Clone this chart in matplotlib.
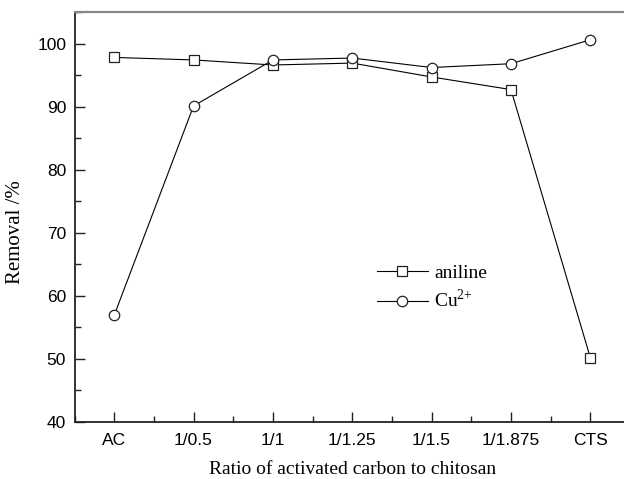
import numpy as np
import matplotlib
matplotlib.use('Agg')
import matplotlib.pyplot as plt
from matplotlib.ticker import MultipleLocator

plt.rcParams['mathtext.fontset'] = 'custom'
plt.rcParams['mathtext.rm'] = 'Liberation Serif'

#data
ratios = ['AC', '1/0.5', '1/1', '1/1.25', '1/1.5', '1/1.875', 'CTS']
aniline = [97.8, 97.4, 96.6, 96.9, 94.7, 92.7, 50.2]
cu = [56.9, 90.1, 97.4, 97.7, 96.2, 96.8, 100.6]

x = np.arange(len(ratios))

fig = plt.figure(figsize=(6.24, 4.79), dpi=100)
# right edge of the axes sits just past the image, as in the original
ax = fig.add_axes([74.5/624, 57/479, 555.5/624, 410/479])

ax.plot(x, aniline, '-', color='k', lw=0.8, marker='s', ms=7, mfc='white',
        mec='#222222', mew=0.9, label='aniline')
ax.plot(x, cu, '-', color='k', lw=0.8, marker='o', ms=7.5, mfc='white',
        mec='#222222', mew=0.9, label=r'Cu$^{\rm 2{+}}$')

ax.set_xlim(-0.5, 6.5)
ax.set_ylim(40, 105)
ax.set_xticks(x)
ax.set_xticklabels(ratios, family='Liberation Sans', fontsize=12.5)
ax.xaxis.set_minor_locator(MultipleLocator(0.5))
ax.yaxis.set_major_locator(MultipleLocator(10))
ax.yaxis.set_minor_locator(MultipleLocator(5))
for lab in ax.get_yticklabels():
    lab.set_family('Liberation Sans')
    lab.set_fontsize(12.5)
ax.tick_params(which='both', direction='in', width=1, color='#222222')
ax.tick_params(which='major', length=7, pad=8)
ax.tick_params(which='minor', length=4)
ax.tick_params(axis='y', which='major', pad=6)
ax.tick_params(top=False, right=False, which='both')

for s in ['left', 'bottom']:
    ax.spines[s].set_linewidth(1.3)
    ax.spines[s].set_color('#222222')
ax.spines['top'].set_color('#888888')
ax.spines['top'].set_linewidth(1.6)
ax.spines['right'].set_visible(False)

ax.set_xlabel('Ratio of activated carbon to chitosan', family='Liberation Serif',
              fontsize=14, labelpad=9)
ax.set_ylabel('Removal /%', family='Liberation Serif', fontsize=15)
ax.yaxis.set_label_coords(-0.09, 0.463)

ax.legend(loc='upper left', bbox_to_anchor=(0.513, 0.427), frameon=False,
          prop={'family': 'Liberation Serif', 'size': 14}, handlelength=2.6,
          handletextpad=0.35, labelspacing=0.35)

fig.savefig('out.png', dpi=100)
